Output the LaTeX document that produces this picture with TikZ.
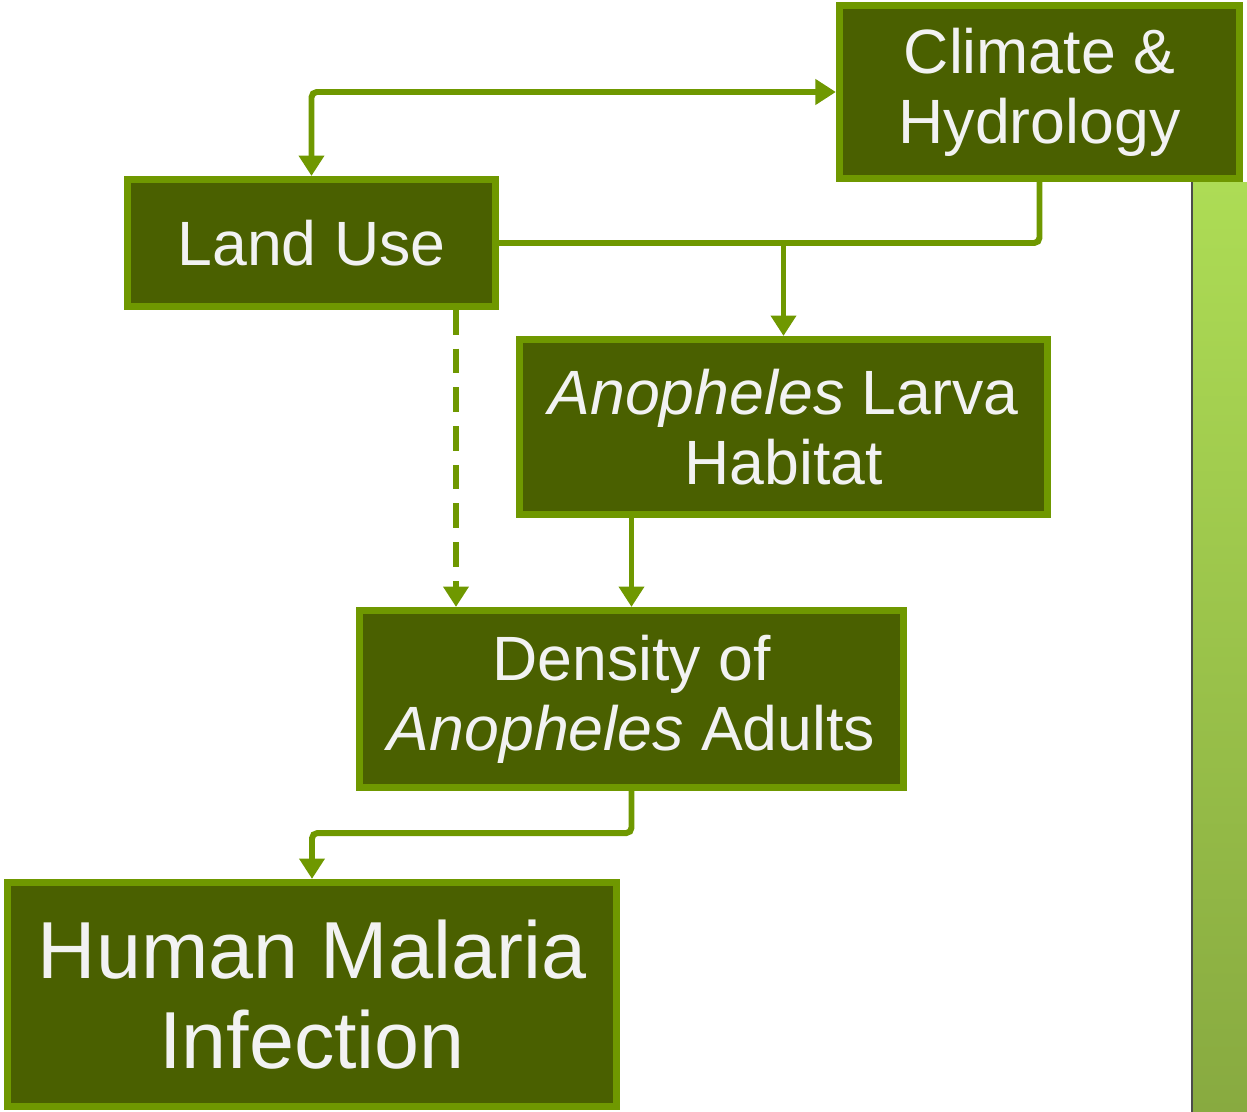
\documentclass[tikz,border=0pt]{standalone}
\usepackage{fontspec}
\setmainfont{Liberation Sans}
\usetikzlibrary{arrows.meta}
\definecolor{boxfill}{HTML}{4A6000}
\definecolor{boxline}{HTML}{6F9800}
\definecolor{boxtext}{HTML}{F2F2F2}
\definecolor{bartop}{HTML}{ADDC55}
\definecolor{barbot}{HTML}{88AA40}
\tikzset{
  factor/.style={draw=boxline, fill=boxfill, line width=2pt, text=boxtext,
    align=center, inner sep=0pt, font=\fontsize{17.8}{20}\selectfont},
  link/.style={draw=boxline, line width=1.7pt, rounded corners=1.5pt,
    -{Triangle[width=7pt,length=5.8pt]}},
}
\begin{document}
\begin{tikzpicture}[x=0.01cm, y=-0.01cm]
    \useasboundingbox (0,0) rectangle (1247,1112);
    % side bar
    \shade[top color=bartop, bottom color=barbot] (1192,182) rectangle (1247,1112);
    \draw[black!70, line width=0.8pt] (1192,182) -- (1192,1112);
    % factors
    \node[factor, minimum width=4.00cm, minimum height=1.73cm] (clim) at (1039.5,92)
      {Climate \&\\Hydrology};
    \node[factor, minimum width=3.68cm, minimum height=1.27cm] (land) at (311.5,243)
      {Land Use};
    \node[factor, minimum width=5.28cm, minimum height=1.75cm] (larva) at (783.5,427)
      {\textit{Anopheles} Larva\\Habitat};
    \node[factor, minimum width=5.44cm, minimum height=1.77cm] (dens) at (631.5,699)
      {Density of\\\textit{Anopheles} Adults};
    \node[factor, minimum width=6.09cm, minimum height=2.24cm, font=\fontsize{23}{25.4}\selectfont]
      (human) at (312,994.5) {Human Malaria\\Infection};
    % connectors
    \draw[link, {Triangle[width=7pt,length=5.8pt]}-{Triangle[width=7pt,length=5.8pt]}]
      (land.north) |- (clim.west);
    \draw[link, -] (land.east) -| (clim.south);
    \coordinate (split) at (783.5,243);
    \draw[link] (split) -- (larva.north);
    \coordinate (dashtop) at (456,310);
    \draw[link, dash pattern=on 7pt off 4pt] (land.south -| dashtop) -- (dashtop |- dens.north);
    \draw[link] (larva.south -| dens.north) -- (dens.north);
    \draw[link] (dens.south) -- ++(0,42) -| (human.north);
\end{tikzpicture}
\end{document}
